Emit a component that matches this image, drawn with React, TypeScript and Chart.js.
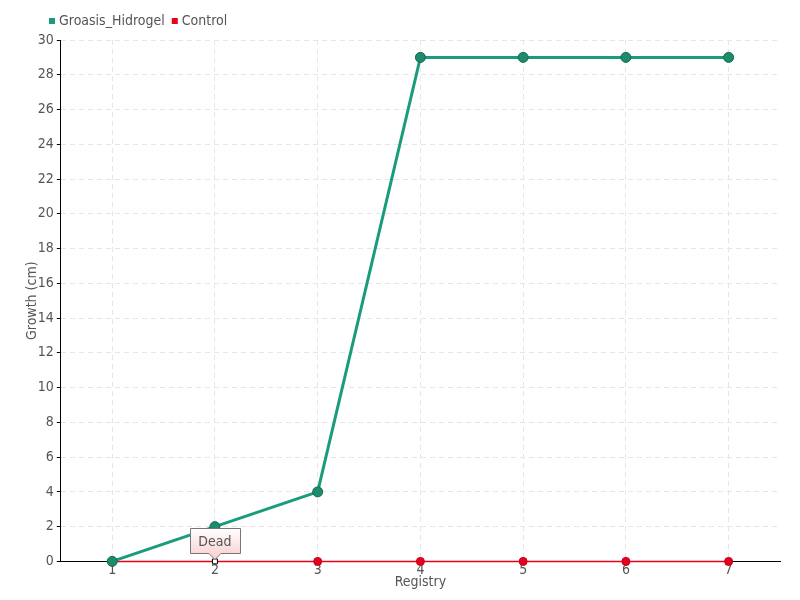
import React, { useEffect, useRef } from "react";
import { Chart, registerables } from "chart.js";

Chart.register(...registerables);

const categories = ["1", "2", "3", "4", "5", "6", "7"];
const hidrogel = [0, 2, 4, 29, 29, 29, 29];
const control = [0, 0, 0, 0, 0, 0, 0];
const annotationIndex = 1;
const annotationText = "Dead";

const FONT = "'DejaVu Sans Condensed', 'Liberation Sans Narrow', sans-serif";

const deadLabel = {
  id: "deadLabel",
  afterDatasetsDraw(chart: any) {
    const ctx = chart.ctx;
    const meta = chart.getDatasetMeta(1);
    const el = meta.data[annotationIndex];
    if (!el) return;
    const px = el.x;
    const py = el.y;
    ctx.save();
    ctx.font = `14px ${FONT}`;
    const w = 50;
    const h = 25;
    const bx = Math.round(px - w / 2) + 0.5;
    const by = Math.round(py - 33) + 0.5;
    const grad = ctx.createLinearGradient(0, by, 0, by + h);
    grad.addColorStop(0, "#ffffff");
    grad.addColorStop(1, "#fbd6d6");
    ctx.beginPath();
    ctx.moveTo(bx, by);
    ctx.lineTo(bx + w, by);
    ctx.lineTo(bx + w, by + h);
    ctx.lineTo(px + 6, by + h);
    ctx.lineTo(px, by + h + 6);
    ctx.lineTo(px - 6, by + h);
    ctx.lineTo(bx, by + h);
    ctx.closePath();
    ctx.fillStyle = grad;
    ctx.fill();
    ctx.strokeStyle = "#777";
    ctx.lineWidth = 1;
    ctx.stroke();
    ctx.fillStyle = "#555";
    ctx.textAlign = "center";
    ctx.textBaseline = "middle";
    ctx.fillText(annotationText, px, by + h / 2 + 1);
    ctx.restore();
  },
};

const customLegend = {
  id: "customLegend",
  afterDraw(chart: any) {
    const ctx = chart.ctx;
    ctx.save();
    ctx.font = `14px ${FONT}`;
    ctx.textBaseline = "middle";
    ctx.textAlign = "left";
    let x = 49;
    const y = 21;
    chart.data.datasets.forEach((ds: any) => {
      ctx.fillStyle = ds.borderColor;
      ctx.fillRect(x, y - 3, 6, 6);
      ctx.fillStyle = "#555";
      ctx.fillText(ds.label, x + 10, y);
      x += 10 + ctx.measureText(ds.label).width + 7;
    });
    ctx.restore();
  },
};

export default function App() {
  const ref = useRef<HTMLCanvasElement>(null);
  useEffect(() => {
    document.body.style.margin = "0";
    const canvas = ref.current!;
    const chart = new Chart(canvas, {
      type: "line",
      data: {
        labels: categories,
        datasets: [
          {
            label: "Groasis_Hidrogel",
            data: hidrogel,
            borderColor: "#1a9c7c",
            backgroundColor: "#1a9c7c",
            borderWidth: 3,
            pointRadius: 5,
            pointBackgroundColor: "#1c8c6c",
            pointBorderColor: "#16684f",
            pointBorderWidth: 1,
            tension: 0,
            clip: false,
          },
          {
            label: "Control",
            data: control,
            borderColor: "#e8001c",
            backgroundColor: "#e8001c",
            borderWidth: 1.5,
            pointRadius: control.map((_, i) => (i === annotationIndex ? 3.5 : 4)),
            pointStyle: control.map((_, i) => (i === annotationIndex ? "rect" : "circle")) as any,
            pointBackgroundColor: control.map((_, i) => (i === annotationIndex ? "#ffffff" : "#e8001c")),
            pointBorderColor: control.map((_, i) => (i === annotationIndex ? "#000000" : "#c4001a")),
            pointBorderWidth: 1,
            tension: 0,
            clip: false,
          },
        ],
      },
      options: {
        responsive: false,
        animation: false,
        layout: { padding: { left: 14, right: 20, top: 40, bottom: 9 } },
        plugins: {
          legend: { display: false },
          tooltip: { enabled: false },
        },
        scales: {
          x: {
            offset: true,
            grid: {
              offset: false,
              color: "#e6e6e6",
              drawTicks: false,
            },
            border: { color: "#000", dash: [5, 4] },
            ticks: { color: "#555", font: { family: FONT, size: 14 }, padding: 1 },
            title: {
              display: true,
              text: "Registry",
              color: "#555",
              font: { family: FONT, size: 14 },
              padding: { top: -6, bottom: 0 },
            },
          },
          y: {
            min: 0,
            max: 30,
            ticks: { stepSize: 2, color: "#555", font: { family: FONT, size: 14 }, padding: 3 },
            grid: {
              color: "#e6e6e6",
              tickColor: "#000",
              tickLength: 4,
              tickBorderDash: [],
            },
            border: { color: "#000", dash: [5, 4] },
            title: {
              display: true,
              text: "Growth (cm)",
              color: "#555",
              font: { family: FONT, size: 14 },
              padding: { top: 10, bottom: -6 },
            },
          },
        },
      },
      plugins: [deadLabel, customLegend],
    } as any);
    return () => chart.destroy();
  }, []);
  return <canvas ref={ref} width={800} height={600} style={{ display: "block" }} />;
}
